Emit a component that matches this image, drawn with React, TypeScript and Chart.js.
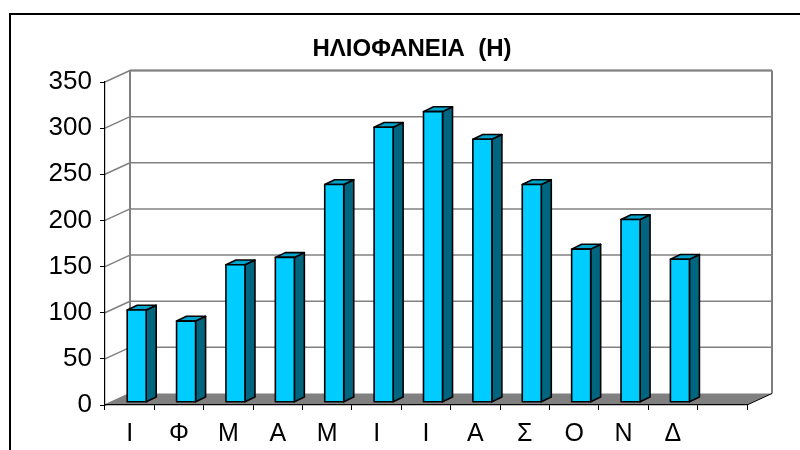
import React, { useEffect, useRef } from "react";
import { Chart, registerables } from "chart.js";

Chart.register(...registerables);

// ---- data ----
const TITLE = "ΗΛΙΟΦΑΝΕΙΑ  (Η)";
const MONTHS = ["Ι", "Φ", "Μ", "Α", "Μ", "Ι", "Ι", "Α", "Σ", "Ο", "Ν", "Δ", ""];
const SUNSHINE_HOURS: (number | null)[] = [100, 88, 149, 157, 236, 298, 315, 285, 236, 166, 198, 155, null];
const Y_MIN = 0;
const Y_MAX = 350;
const Y_STEP = 50;

// ---- styling ----
const FONT = "'Liberation Sans', Arial, sans-serif";
const DEPTH_X = 25;
const DEPTH_Y = 11.5;
const BAR_SHIFT_X = 7;
const BAR_SHIFT_Y = 2.7;
const BAR_DEPTH_X = 10;
const BAR_DEPTH_Y = 4.8;
const FRONT = "#00CCFF";
const SIDE = "#006680";
const TOP = "#00A3CC";
const WALL_LINE = "#808080";

const threeD = {
  id: "threeD",
  beforeDraw(chart: any) {
    const { ctx, chartArea: a, scales } = chart;
    const y = scales.y;
    const line = (x1: number, y1: number, x2: number, y2: number) => {
      ctx.beginPath();
      ctx.moveTo(x1, y1);
      ctx.lineTo(x2, y2);
      ctx.stroke();
    };
    ctx.save();
    ctx.fillStyle = "#ffffff";
    ctx.fillRect(0, 0, chart.width, chart.height);
    // outer frame
    ctx.strokeStyle = "#000";
    ctx.lineWidth = 2;
    ctx.strokeRect(10, 14, chart.width + 20, chart.height + 20);

    const bl = a.left + DEPTH_X;
    const br = a.right + DEPTH_X;
    const bt = a.top - DEPTH_Y;
    const bb = a.bottom - DEPTH_Y;

    // gridlines on back wall + side wall
    ctx.strokeStyle = WALL_LINE;
    ctx.lineWidth = 1.5;
    for (let v = Y_MIN; v <= Y_MAX; v += Y_STEP) {
      const py = y.getPixelForValue(v);
      if (v > Y_MIN) line(bl, py - DEPTH_Y, br, py - DEPTH_Y);
      line(a.left, py, bl, py - DEPTH_Y);
    }
    // back wall edges
    ctx.lineWidth = 2;
    line(bl, bt, br, bt);
    line(bl, bt, bl, bb);
    line(br, bt, br, bb);

    // floor
    ctx.fillStyle = "#808080";
    ctx.beginPath();
    ctx.moveTo(a.left, a.bottom);
    ctx.lineTo(a.right, a.bottom);
    ctx.lineTo(br, bb);
    ctx.lineTo(bl, bb);
    ctx.closePath();
    ctx.fill();
    ctx.strokeStyle = "#000";
    ctx.lineWidth = 1;
    line(a.right, a.bottom, br, bb);
    ctx.restore();
  },
  afterDatasetsDraw(chart: any) {
    const { ctx } = chart;
    const meta = chart.getDatasetMeta(0);
    ctx.save();
    ctx.strokeStyle = "#000";
    ctx.lineWidth = 1.6;
    ctx.lineJoin = "round";
    meta.data.forEach((el: any, i: number) => {
      if (SUNSHINE_HOURS[i] == null) return;
      const p = el.getProps(["x", "y", "base", "width"], true);
      const fl = p.x + BAR_SHIFT_X - p.width / 2;
      const fr = fl + p.width;
      const ft = p.y - BAR_SHIFT_Y;
      const fb = p.base - BAR_SHIFT_Y;
      const sx = BAR_DEPTH_X;
      const sy = BAR_DEPTH_Y;
      const poly = (pts: number[][], fill: string) => {
        ctx.beginPath();
        ctx.moveTo(pts[0][0], pts[0][1]);
        for (let k = 1; k < pts.length; k++) ctx.lineTo(pts[k][0], pts[k][1]);
        ctx.closePath();
        ctx.fillStyle = fill;
        ctx.fill();
        ctx.stroke();
      };
      poly([[fr, ft], [fr + sx, ft - sy], [fr + sx, fb - sy], [fr, fb]], SIDE);
      poly([[fl, ft], [fr, ft], [fr + sx, ft - sy], [fl + sx, ft - sy]], TOP);
      poly([[fl, ft], [fr, ft], [fr, fb], [fl, fb]], FRONT);
    });
    ctx.restore();
  },
};

export default function App() {
  const ref = useRef<HTMLCanvasElement | null>(null);
  useEffect(() => {
    if (!ref.current) return;
    const chart = new Chart(ref.current, {
      type: "bar",
      data: {
        labels: MONTHS,
        datasets: [
          {
            data: SUNSHINE_HOURS as any,
            backgroundColor: "rgba(0,0,0,0)",
            borderWidth: 0,
            barPercentage: 0.385,
            categoryPercentage: 1,
          },
        ],
      },
      options: {
        responsive: false,
        animation: false,
        devicePixelRatio: 1,
        layout: { padding: { left: 24, top: 0, right: 0, bottom: 0 } },
        plugins: {
          legend: { display: false },
          tooltip: { enabled: false },
          title: {
            display: true,
            text: TITLE,
            color: "#000",
            font: { family: FONT, size: 24, weight: "bold" },
            padding: { top: 35, bottom: 18.2 },
          },
        },
        scales: {
          x: {
            type: "category",
            offset: true,
            grid: {
              display: true,
              drawOnChartArea: false,
              drawTicks: true,
              tickLength: 5,
              color: "#000",
              offset: true,
            },
            border: { display: true, color: "#000", width: 1.2 },
            ticks: {
              color: "#000",
              font: { family: FONT, size: 25 },
              padding: 9,
              maxRotation: 0,
              autoSkip: false,
            },
            afterFit(s: any) {
              s.height = 45;
            },
          },
          y: {
            type: "linear",
            min: Y_MIN,
            max: Y_MAX,
            ticks: {
              stepSize: Y_STEP,
              color: "#000",
              font: { family: FONT, size: 26 },
              padding: 8,
            },
            grid: {
              display: true,
              drawOnChartArea: false,
              drawTicks: true,
              tickLength: 5,
              color: "#000",
            },
            border: { display: true, color: "#000", width: 1.2 },
            afterFit(s: any) {
              s.width = 81;
            },
          },
          y2: {
            type: "linear",
            position: "right",
            display: true,
            grid: { display: false },
            border: { display: false },
            ticks: { display: false },
            afterFit(s: any) {
              s.width = 53;
            },
          },
        },
      },
      plugins: [threeD],
    });
    return () => chart.destroy();
  }, []);
  return (
    <div style={{ position: "fixed", left: 0, top: 0, width: 800, height: 450, background: "#fff" }}>
      <canvas ref={ref} width={800} height={450} />
    </div>
  );
}
